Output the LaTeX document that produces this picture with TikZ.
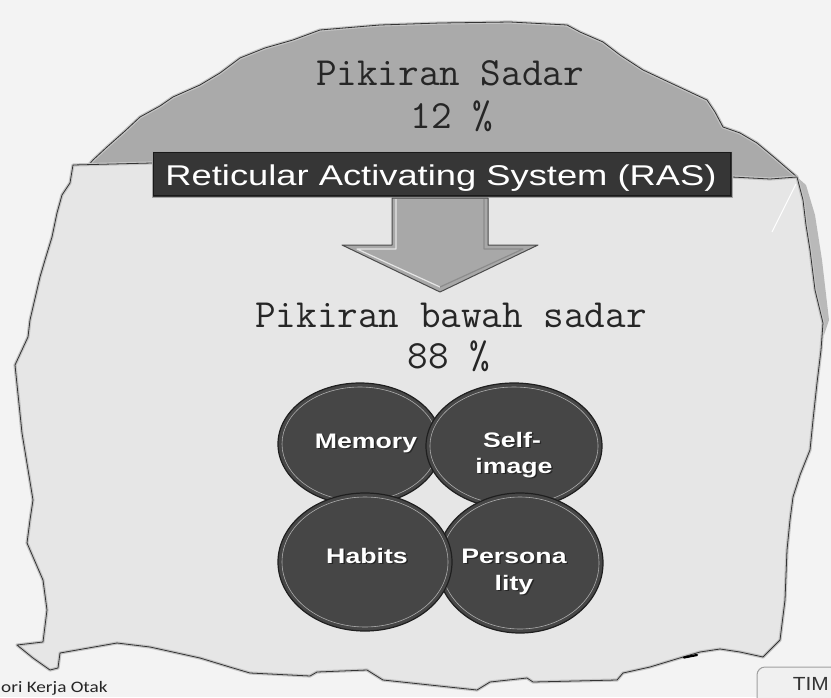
\documentclass[tikz,border=0pt]{standalone}
\usepackage{fontspec}
\setmainfont{Liberation Sans}
\newfontfamily\calf{Carlito}
\usetikzlibrary{shapes.geometric}
\definecolor{bgc}{HTML}{F3F3F3}
\definecolor{paper}{HTML}{E6E6E6}
\definecolor{domec}{HTML}{AAAAAA}
\definecolor{edgec}{HTML}{333333}
\definecolor{haloc}{HTML}{C4C4C4}
\definecolor{barc}{HTML}{363636}
\definecolor{arrowc}{HTML}{A8A8A8}
\definecolor{ballc}{HTML}{464646}
\newcommand{\wideS}[1]{\scalebox{1.27}[1]{#1}}
\newcommand{\clab}[3]{%
  \node[clabsh,xshift=1.4pt,yshift=-1.4pt] (#1s) at #2 {\wideS{#3}};
  \node[clab] (#1) at #2 {\wideS{#3}};}
\tikzset{
  halo/.style={draw=haloc,line width=3.2pt,line join=round},
  edge/.style={draw=edgec,line width=0.8pt,line join=round},
  ball/.style={ellipse,fill=ballc,draw=black!88,line width=1.2pt,inner sep=0pt},
  ring/.style={draw=gray!65,line width=0.6pt},
  clab/.style={anchor=base,text=white,inner sep=0pt,font=\fontsize{21}{25}\selectfont\bfseries},
  clabsh/.style={anchor=base,text=black!85,inner sep=0pt,font=\fontsize{21}{25}\selectfont\bfseries},
  monotext/.style={anchor=base,inner sep=0pt,text=black!85,font=\fontsize{40}{44}\selectfont\ttfamily},
}
\begin{document}
\begin{tikzpicture}[x=1pt,y=-1pt]
\useasboundingbox (0,0) rectangle (831,697);
\fill[bgc] (0,0) rectangle (831,697);

% upper dome (conscious mind)
\def\dome{(80,175) -- (93,160) -- (107,147) -- (125,131) -- (140,117) -- (160,106) -- (173,97)
  -- (200,85) -- (220,73) -- (240,58) -- (265,48) -- (293,40) -- (320,30) -- (380,25) -- (440,23)
  -- (510,22) -- (567,25) -- (580,32) -- (603,42) -- (620,55) -- (643,70) -- (675,85) -- (707,100)
  -- (715,112) -- (723,127) -- (740,133) -- (757,143) -- (775,158) -- (797,177)}
\path[fill=domec] \dome -- (795,190) -- (80,190) -- cycle;
\draw[halo] \dome;
\draw[edge] \dome;

% shadow band on the right
\fill[gray!55] (797,177) -- (806,185) -- (815,215) -- (822,260) -- (829,320) -- (824,335)
  -- (815,290) -- (810,250) -- (803,200) -- cycle;

% lower torn sheet (subconscious mind)
\def\sheet{(73,165) -- (152,163) -- (732,177) -- (770,179) -- (797,177) -- (803,200) -- (806,225)
  -- (810,250) -- (815,290) -- (823,323) -- (821,350) -- (817,383) -- (813,420) -- (810,450)
  -- (800,475) -- (793,497) -- (790,520) -- (787,550) -- (785,600) -- (780,640) -- (763,657)
  -- (740,652) -- (720,649) -- (700,652) -- (683,657) -- (650,667) -- (623,673) -- (617,680)
  -- (533,682) -- (527,678) -- (490,682) -- (477,690) -- (383,680) -- (367,670) -- (317,672)
  -- (310,676) -- (250,673) -- (233,668) -- (200,658) -- (150,647) -- (117,643) -- (77,650)
  -- (60,653) -- (58,668) -- (50,670) -- (33,658) -- (17,645) -- (43,642) -- (47,610) -- (43,580)
  -- (27,543) -- (30,520) -- (33,500) -- (22,433) -- (15,365) -- (28,337) -- (30,320) -- (40,277)
  -- (45,260) -- (52,237) -- (57,213) -- (62,195) -- (70,183) -- cycle}
\draw[halo,fill=paper] \sheet;
\draw[edge] \sheet;
\draw[white,line width=1pt] (796,184) -- (772,232);
\draw[black,line width=2.2pt,line cap=round] (684,657.5) -- (697,655);

% texts of the dome
\node[monotext] (sadar) at (450,85) {Pikiran Sadar};
\node[monotext] (p12) at (452,128) {12 \%};

% RAS bar
\node[rectangle,fill=barc,draw=gray!70,line width=1pt,minimum width=580pt,minimum height=46pt,inner sep=0pt] (ras) at (442,174) {};
\draw[black!90,line width=1pt] ([xshift=2pt,yshift=-2pt]ras.north west) rectangle ([xshift=-2pt,yshift=2pt]ras.south east);
\node[anchor=base,text=white,inner sep=0pt,font=\fontsize{28.6}{32}\selectfont] (rastext) at (441,185.7) {\wideS{Reticular Activating System (RAS)}};

% block arrow
\coordinate (a1) at (392,198);
\coordinate (a2) at (488,198);
\coordinate (tip) at (440,292);
\fill[arrowc,draw=black!70,line width=1pt,line join=round] (a1) -- (a2) -- (488,245) -- (538,245) -- (tip) -- (342,245) -- (392,245) -- cycle;
\draw[white!80!gray,line width=1.2pt,line join=round] (396,199) -- (396,249) -- (357,249) -- (440,287);
\draw[black!45,line width=1.2pt,line join=round] (484,199) -- (484,249) -- (523,249) -- (440,287);

% texts of the sheet
\node[monotext] (bawah) at (451,327) {Pikiran bawah sadar};
\node[monotext] (p88) at (449,368) {88 \%};

% four balls
\node[ball,minimum width=164pt,minimum height=122pt] (mem) at (360,444) {};
\draw[ring] (mem.center) ellipse [x radius=78, y radius=57];
\node[ball,minimum width=176pt,minimum height=126pt] (self) at (514,446) {};
\draw[ring] (self.center) ellipse [x radius=84, y radius=59];
\node[ball,minimum width=166pt,minimum height=140pt] (pers) at (520,563) {};
\draw[ring] (pers.center) ellipse [x radius=79, y radius=66];
\node[ball,minimum width=174pt,minimum height=138pt] (hab) at (365,562) {};
\draw[ring] (hab.center) ellipse [x radius=83, y radius=65];

\clab{memt}{(366,448)}{Memory}
\clab{selfa}{(512,447)}{Self-}
\clab{selfb}{(514,473)}{image}
\clab{habt}{(367,563)}{Habits}
\clab{persa}{(514,563)}{Persona}
\clab{persb}{(514,590)}{lity}

% footer
\node[anchor=base west,inner sep=0pt,text=black!85,font=\fontsize{16}{18}\selectfont\calf] (foot) at (1,692) {\scalebox{1.2}[1]{ori Kerja Otak}};
\draw[rounded corners=8pt,fill=gray!12,draw=gray!75,line width=1pt] (757,667) rectangle (860,720);
\node[anchor=base east,inner sep=0pt,text=black!80,font=\fontsize{19}{22}\selectfont] (tim) at (829,690) {\scalebox{1.1}[1]{TIM}};
\end{tikzpicture}
\end{document}
